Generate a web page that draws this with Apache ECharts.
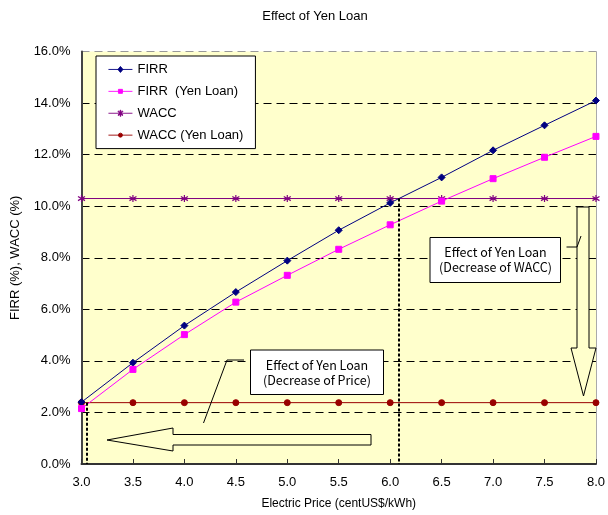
<!DOCTYPE html>
<html>
<head>
<meta charset="utf-8">
<script src="https://cdn.jsdelivr.net/npm/echarts@6/dist/echarts.min.js"></script>
<style>
  html, body { margin: 0; padding: 0; background: #fff; }
  #chart { width: 608px; height: 515px; }
</style>
</head>
<body>
<div id="chart"></div>
<script>
// electric price (centUS$/kWh)
var prices = [3.0, 3.5, 4.0, 4.5, 5.0, 5.5, 6.0, 6.5, 7.0, 7.5, 8.0];
var firr = [2.4, 3.93, 5.37, 6.67, 7.89, 9.07, 10.13, 11.12, 12.17, 13.14, 14.1];
var firrYen = [2.15, 3.67, 5.02, 6.28, 7.32, 8.33, 9.28, 10.2, 11.07, 11.9, 12.71];
var wacc = [10.3, 10.3, 10.3, 10.3, 10.3, 10.3, 10.3, 10.3, 10.3, 10.3, 10.3];
var waccYen = [2.38, 2.38, 2.38, 2.38, 2.38, 2.38, 2.38, 2.38, 2.38, 2.38, 2.38];
// where the curves cross the WACC lines
var crossYen = [3.05, 2.38];
var crossBase = [6.085, 10.3];

var font = 'Liberation Sans, Arial, sans-serif';
var jpFont = 'Noto Sans CJK JP, sans-serif';
var yellow = '#FFFFCC';

function pairs(ys) {
  return prices.map(function (x, i) { return [x, ys[i]]; });
}

// legend icons: a 24x14 box with a line and a small marker
var box = 'M0,0L0,0M24,14L24,14M0,7L24,7';
var icons = {
  diamond: box + 'M12,4L14.5,7L12,10L9.5,7Z',
  square: box + 'M10,5L14,5L14,9L10,9Z',
  star: box + 'M11.6,4L12.4,4L12.4,10L11.6,10Z' +
    'M9.5,5.3L9.9,4.7L14.5,8.7L14.1,9.3Z M9.5,8.7L9.9,9.3L14.5,5.3L14.1,4.7Z',
  dot: box + 'M10,7A2,2,0,1,0,14,7A2,2,0,1,0,10,7Z'
};

var chart = echarts.init(document.getElementById('chart'));

var option = {
  animation: false,
  backgroundColor: '#fff',
  title: {
    text: 'Effect of Yen Loan',
    left: 310,
    top: 5,
    textAlign: 'center',
    textStyle: { fontFamily: font, fontSize: 13, fontWeight: 'normal', color: '#000' }
  },
  grid: {
    left: 81.5, right: 8.5, top: 51.6, bottom: 49,
    show: true, backgroundColor: yellow, borderWidth: 0
  },
  legend: {
    orient: 'vertical',
    left: 96, top: 56,
    backgroundColor: '#fff',
    borderColor: '#000', borderWidth: 1, borderRadius: 0,
    padding: [6, 12, 6, 12],
    itemGap: 7, itemWidth: 24, itemHeight: 14,
    textStyle: { fontFamily: font, fontSize: 13, color: '#000' },
    itemStyle: { borderWidth: 0.9 },
    data: [
      { name: 'FIRR', icon: 'path://' + icons.diamond },
      { name: 'FIRR  (Yen Loan)', icon: 'path://' + icons.square },
      { name: 'WACC', icon: 'path://' + icons.star },
      { name: 'WACC (Yen Loan)', icon: 'path://' + icons.dot }
    ]
  },
  xAxis: {
    type: 'value',
    min: 3, max: 8, interval: 0.5,
    name: 'Electric Price (centUS$/kWh)',
    nameLocation: 'middle', nameGap: 34,
    nameTextStyle: { fontFamily: font, fontSize: 12, color: '#000' },
    axisLine: { lineStyle: { color: '#333', width: 2 } },
    axisTick: { show: true, inside: true, length: 5, lineStyle: { color: '#333' } },
    axisLabel: { fontFamily: font, fontSize: 13, color: '#000', margin: 12,
      formatter: function (v) { return v.toFixed(1); } },
    splitLine: { show: false }
  },
  yAxis: [{
    type: 'value',
    min: 0, max: 16, interval: 2,
    name: 'FIRR (%), WACC (%)',
    nameLocation: 'middle', nameGap: 60, nameRotate: 90,
    nameTextStyle: { fontFamily: font, fontSize: 13, color: '#000' },
    axisLine: { show: true, lineStyle: { color: '#444', width: 2 } },
    axisTick: { show: false },
    axisLabel: { fontFamily: font, fontSize: 13, color: '#000', margin: 11,
      formatter: function (v) { return v.toFixed(1) + '%'; } },
    splitLine: { show: true, lineStyle: {
      color: ['#000', '#000', '#000', '#000', '#000', '#000', '#000', '#000', '#999'],
      type: [8, 5], width: 1 } }
  }, {
    type: 'value',
    min: 0, max: 16, interval: 2,
    position: 'right',
    axisLine: { show: true, lineStyle: { color: '#aaa', width: 1 } },
    axisTick: { show: false },
    axisLabel: { show: false },
    splitLine: { show: false }
  }],
  series: [{
    name: 'FIRR',
    type: 'line',
    data: pairs(firr),
    symbol: 'diamond', symbolSize: 7,
    lineStyle: { color: '#000080', width: 1 },
    itemStyle: { color: '#000080', borderColor: '#000080', borderWidth: 1 },
    z: 4
  }, {
    name: 'FIRR  (Yen Loan)',
    type: 'line',
    data: pairs(firrYen),
    symbol: 'rect', symbolSize: 6,
    lineStyle: { color: '#FF00FF', width: 1 },
    itemStyle: { color: '#FF00FF', borderColor: '#FF00FF', borderWidth: 1 },
    z: 4,
    markLine: {
      silent: true,
      symbol: 'none',
      label: { show: false },
      lineStyle: { color: '#000', type: [3, 2], width: 2 },
      data: [
        [{ coord: [crossYen[0], crossYen[1]] }, { coord: [crossYen[0], 0] }],
        [{ coord: [crossBase[0], crossBase[1]] }, { coord: [crossBase[0], 0] }]
      ]
    }
  }, {
    name: 'WACC',
    type: 'line',
    data: pairs(wacc),
    symbol: 'path://M5,0L5,10M0,2L10,8M0,8L10,2', symbolSize: 7,
    lineStyle: { color: '#800080', width: 1 },
    itemStyle: { color: '#800080', borderColor: '#800080', borderWidth: 1.2 },
    z: 3
  }, {
    name: 'WACC (Yen Loan)',
    type: 'line',
    data: pairs(waccYen),
    symbol: 'circle', symbolSize: 6,
    lineStyle: { color: '#990000', width: 1 },
    itemStyle: { color: '#990000', borderColor: '#990000', borderWidth: 1 },
    z: 3
  }],
  graphic: [
    // arrow: decrease of price
    { type: 'polygon', z: 10,
      shape: { points: [[107, 440], [173, 428], [173, 434.5], [371, 434.5], [371, 445], [173, 445], [173, 451]] },
      style: { fill: yellow, stroke: '#000', lineWidth: 1 } },
    // arrow: decrease of WACC
    { type: 'polygon', z: 10,
      shape: { points: [[577, 207], [589, 207], [589, 348], [596, 348], [583.5, 396], [571, 348], [577, 348]] },
      style: { fill: yellow, stroke: '#000', lineWidth: 1 } },
    // callout: WACC
    { type: 'polyline', z: 10,
      shape: { points: [[566.5, 247], [577, 247], [581, 236]] },
      style: { stroke: '#000', lineWidth: 1, fill: null } },
    { type: 'rect', z: 11,
      shape: { x: 430, y: 237.5, width: 130.5, height: 45 },
      style: { fill: '#fff', stroke: '#000', lineWidth: 1 } },
    { type: 'text', z: 12, x: 495.5, y: 260,
      style: { text: 'Effect of Yen Loan\n(Decrease of WACC)', align: 'center', verticalAlign: 'middle',
        fontFamily: jpFont, fontSize: 12.5, lineHeight: 15, fill: '#000' } },
    // callout: price
    { type: 'polyline', z: 10,
      shape: { points: [[244, 360], [227, 360], [203.5, 423]] },
      style: { stroke: '#000', lineWidth: 1, fill: null } },
    { type: 'rect', z: 11,
      shape: { x: 250.5, y: 350, width: 133, height: 44.5 },
      style: { fill: '#fff', stroke: '#000', lineWidth: 1 } },
    { type: 'text', z: 12, x: 317, y: 373,
      style: { text: 'Effect of Yen Loan\n(Decrease of Price)', align: 'center', verticalAlign: 'middle',
        fontFamily: jpFont, fontSize: 12.5, lineHeight: 15, fill: '#000' } }
  ]
};

chart.setOption(option);
</script>
</body>
</html>
